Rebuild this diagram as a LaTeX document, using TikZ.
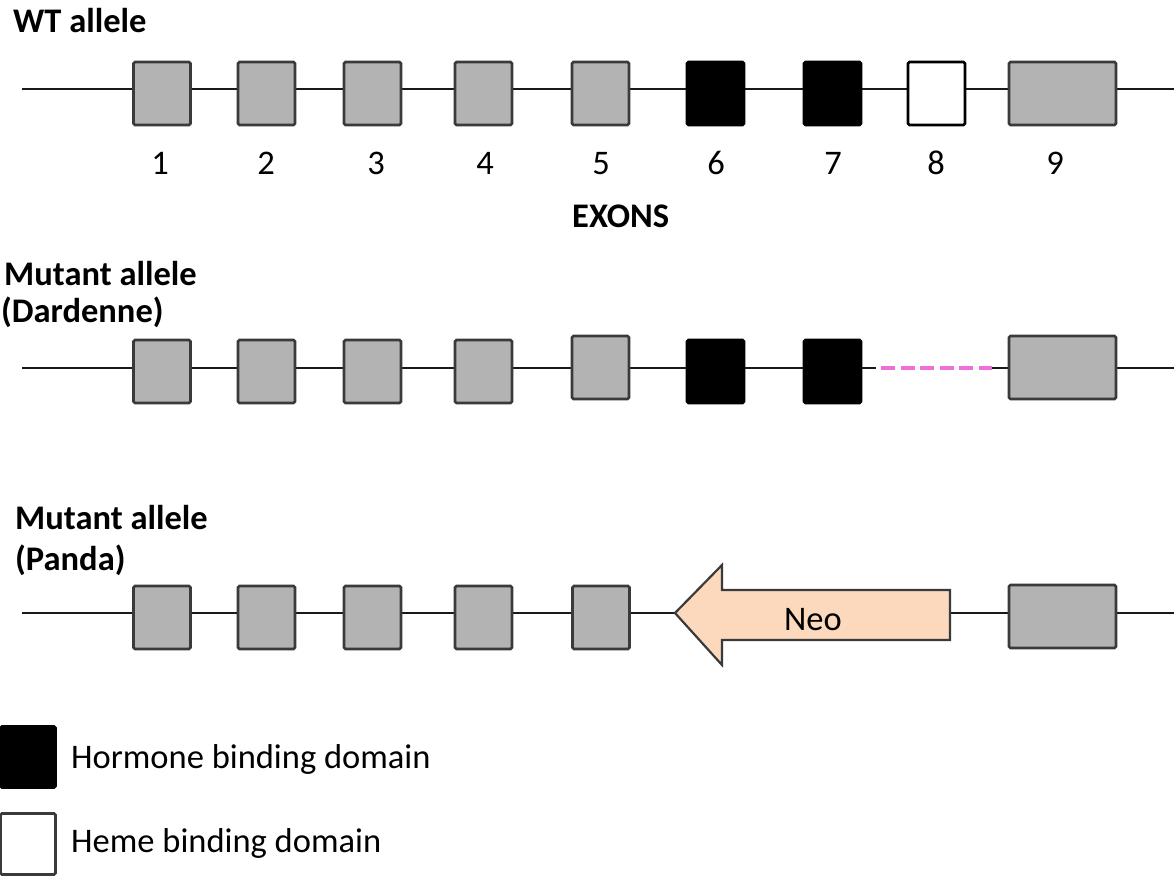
\documentclass[tikz,border=0pt]{standalone}
\usepackage{fontspec}
\setmainfont{Carlito}
\definecolor{exongray}{HTML}{B3B3B3}
\definecolor{edge}{HTML}{3A3A3A}
\definecolor{neofill}{HTML}{FCD9BD}
\definecolor{gapline}{HTML}{F06EDC}
\tikzset{
  exon/.style={draw=edge, line width=2.6pt, rounded corners=1.5pt, fill=exongray,
               minimum width=57pt, minimum height=63pt, inner sep=0pt},
  hormone/.style={exon, fill=black, draw=black},
  heme/.style={exon, fill=white, draw=black},
  wide/.style={minimum width=107pt},
  backbone/.style={draw=black!90, line width=2.6pt},
  txt/.style={font=\fontsize{34.5}{41}\selectfont, inner sep=0pt},
  title/.style={txt, font=\fontsize{34.5}{41}\selectfont\bfseries, anchor=base west},
}
\begin{document}
\begin{tikzpicture}[x=1pt,y=-1pt]
\useasboundingbox (0,0) rectangle (1174,877);

% ---------- wild-type allele ----------
\node[title] (wt) at (13,33) {WT allele};
\coordinate (s1) at (22,89);
\coordinate (e1) at (1174,89);
\draw[backbone] (s1) -- (e1);
\node[exon]    (a1) at (162,93.5) {};
\node[exon]    (a2) at (266.5,93.5) {};
\node[exon]    (a3) at (372.5,93.5) {};
\node[exon]    (a4) at (483.5,93.5) {};
\node[exon]    (a5) at (600.5,93.5) {};
\node[hormone] (a6) at (715.5,93.5) {};
\node[hormone] (a7) at (832.5,93.5) {};
\node[heme]    (a8) at (936.5,93.5) {};
\node[exon,wide] (a9) at (1062.5,93.5) {};
\foreach \n/\x in {1/160,2/266,3/376,4/485,5/601,6/716,7/833,8/936,9/1055}
  \node[txt, anchor=base] (n\n) at (\x,175) {\n};
\node[title] (exons) at (572,228) {EXONS};

% ---------- mutant allele (Dardenne) ----------
\node[title] (d1) at (4,285) {Mutant allele};
\node[title] (d2) at (1,322) {(Dardenne)};
\coordinate (s2) at (22,368);
\coordinate (g1) at (876,368);
\coordinate (g2) at (992,368);
\coordinate (e2) at (1174,368);
\draw[backbone] (s2) -- (g1);
\draw[backbone] (g2) -- (e2);
\draw[draw=gapline, line width=3.4pt, dash pattern=on 14pt off 5.6pt] ([xshift=5pt]g1) -- (g2);
\node[exon]    (b1) at (162,371.5) {};
\node[exon]    (b2) at (266.5,371.5) {};
\node[exon]    (b3) at (372.5,371.5) {};
\node[exon]    (b4) at (483.5,371.5) {};
\node[exon]    (b5) at (600.5,367.5) {};
\node[hormone] (b6) at (715.5,371.5) {};
\node[hormone] (b7) at (832.5,371.5) {};
\node[exon,wide] (b9) at (1062.5,367.5) {};

% ---------- mutant allele (Panda) ----------
\node[title] (p1) at (15,529) {Mutant allele};
\node[title] (p2) at (15,570) {(Panda)};
\coordinate (s3) at (22,613);
\coordinate (e3) at (1174,613);
\draw[backbone] (s3) -- (e3);
\node[exon] (c1) at (162,617.5) {};
\node[exon] (c2) at (266.5,617.5) {};
\node[exon] (c3) at (372.5,617.5) {};
\node[exon] (c4) at (483.5,617.5) {};
\node[exon] (c5) at (601,617.5) {};
\node[exon,wide] (c9) at (1062.5,616.5) {};
% neomycin cassette, reverse orientation
\draw[draw=edge, line width=2.2pt, fill=neofill, line join=miter]
  (675,613) -- (722,565) -- (722,590) -- (950,590) -- (950,640)
  -- (722,640) -- (722,665) -- cycle;
\node[txt, anchor=base] (neo) at (813,630) {Neo};

% ---------- legend ----------
\node[hormone, minimum width=55pt, minimum height=61pt] (k1) at (28,757) {};
\node[txt, anchor=base west] (k1t) at (71,768) {Hormone binding domain};
\node[heme, draw=edge, minimum width=55pt, minimum height=61pt] (k2) at (28,844) {};
\node[txt, anchor=base west] (k2t) at (71,852) {Heme binding domain};
\end{tikzpicture}
\end{document}
